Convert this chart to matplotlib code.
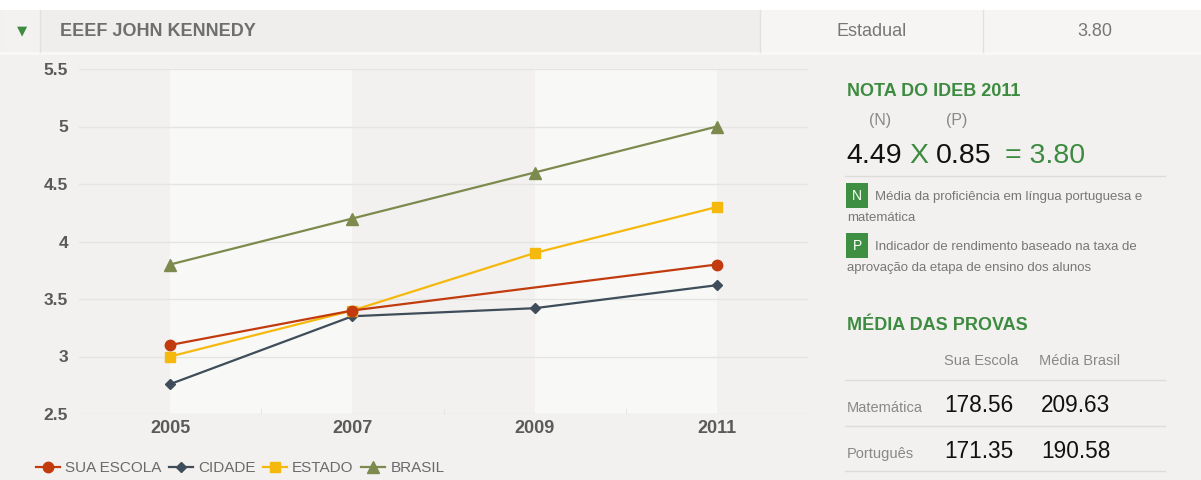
import matplotlib
matplotlib.use("Agg")
import matplotlib.pyplot as plt
from matplotlib.patches import Rectangle
from matplotlib.lines import Line2D
import numpy as np

plt.rcParams['font.family'] = ['Liberation Sans', 'DejaVu Sans']

# ---------------- data ----------------
years = [2005, 2007, 2009, 2011]
escola_years = [2005, 2007, 2011]
escola = [3.1, 3.4, 3.8]
cidade = [2.76, 3.35, 3.42, 3.62]
estado = [3.0, 3.4, 3.9, 4.3]
brasil = [3.8, 4.2, 4.6, 5.0]
series_names = ["SUA ESCOLA", "CIDADE", "ESTADO", "BRASIL"]
yticks = [2.5, 3, 3.5, 4, 4.5, 5, 5.5]
ytick_labels = ["2.5", "3", "3.5", "4", "4.5", "5", "5.5"]

school_name = "EEEF JOHN KENNEDY"
rede = "Estadual"
ideb = "3.80"
nota_n = "4.49"
nota_p = "0.85"
provas_cols = ["Sua Escola", "Média Brasil"]
provas_rows = ["Matemática", "Português"]
provas_escola = ["178.56", "171.35"]
provas_brasil = ["209.63", "190.58"]

# ---------------- figure ----------------
W, H = 1201, 480
fig = plt.figure(figsize=(W / 100, H / 100), dpi=100)
fig.patch.set_facecolor("#f2f1ef")

def fx(x):
    return x / W

def fy(y):
    return 1 - y / H

GREEN = "#3d8b40"

# top white strip and header
fig.patches.append(Rectangle((0, fy(10)), 1, 10 / H, transform=fig.transFigure,
                             facecolor="white", edgecolor="none", zorder=0))
fig.patches.append(Rectangle((fx(5), fy(52)), fx(1196), 42 / H, transform=fig.transFigure,
                             facecolor="#efeeec", edgecolor="none", zorder=0))
fig.patches.append(Rectangle((fx(5), fy(52)), fx(35), 42 / H, transform=fig.transFigure,
                             facecolor="#f3f2f1", edgecolor="none", zorder=0))
fig.patches.append(Rectangle((fx(761), fy(52)), fx(440), 42 / H, transform=fig.transFigure,
                             facecolor="#f6f5f4", edgecolor="none", zorder=0))
fig.patches.append(Rectangle((0, fy(55)), 1, 3 / H, transform=fig.transFigure,
                             facecolor="#f9f8f7", edgecolor="none", zorder=0))
for xd in [40, 760, 983]:
    fig.add_artist(Line2D([fx(xd), fx(xd)], [fy(10), fy(52)], transform=fig.transFigure,
                          color="#e2e1df", lw=1))
fig.text(fx(22), fy(31), "▼", color=GREEN, fontsize=9.5, ha="center", va="center",
         family=["DejaVu Sans"])
fig.text(fx(60), fy(31), school_name, color="#6e6e6e", fontsize=13, fontweight="bold",
         ha="left", va="center")
fig.text(fx(872), fy(31), rede, color="#777777", fontsize=13, ha="center", va="center")
fig.text(fx(1095), fy(31), ideb, color="#777777", fontsize=13, ha="center", va="center")

# ---------------- chart ----------------
ax = fig.add_axes([fx(79), fy(414), fx(729), (414 - 69) / H])
ax.set_facecolor("none")
ax.set_xlim(2004, 2012)
ax.set_ylim(2.5, 5.5)
for a, b in [(years[0], years[1]), (years[2], years[3])]:
    ax.axvspan(a, b, color="#f8f8f7", zorder=0, lw=0)
for s in ax.spines.values():
    s.set_visible(False)
ax.set_yticks(yticks)
ax.set_yticklabels(ytick_labels)
ax.set_xticks(years)
ax.set_xticklabels([str(y) for y in years])
ax.set_xticks([2006, 2008, 2010], minor=True)
ax.grid(axis="y", color="#e4e4e2", lw=1, zorder=1)
ax.tick_params(axis="y", length=0, pad=8, labelsize=12.5, labelcolor="#5a5a5a")
ax.tick_params(axis="x", which="major", length=0, pad=4, labelsize=13, labelcolor="#5a5a5a")
ax.tick_params(axis="x", which="minor", length=4, color="#e4e4e2", direction="in")
for lab in ax.get_xticklabels() + ax.get_yticklabels():
    lab.set_fontweight("bold")

lw = 1.6
l1, = ax.plot(escola_years, escola, color="#c23b0e", lw=lw, marker="o", ms=7.5, zorder=4)
l2, = ax.plot(years, cidade, color="#3e4d59", lw=lw, marker="D", ms=5.5, zorder=3)
l3, = ax.plot(years, estado, color="#f5b80c", lw=lw, marker="s", ms=7.5, zorder=3)
l4, = ax.plot(years, brasil, color="#7c8a4d", lw=lw, marker="^", ms=8, zorder=3)

leg = fig.legend([l1, l2, l3, l4], series_names, loc="center left",
                 bbox_to_anchor=(fx(36), fy(468)), ncol=4, frameon=False,
                 handlelength=1.55, handletextpad=0.35, columnspacing=0.5,
                 fontsize=11, borderaxespad=0, borderpad=0)
for t in leg.get_texts():
    t.set_color("#6a6a6a")

# ---------------- right panel ----------------
fig.text(fx(847), fy(92), "NOTA DO IDEB 2011", color=GREEN, fontsize=13, fontweight="bold",
         ha="left", va="center")
fig.text(fx(880), fy(121), "(N)", color="#888888", fontsize=11.5, ha="center", va="center")
fig.text(fx(957), fy(121), "(P)", color="#888888", fontsize=11.5, ha="center", va="center")
fy_eq = fy(156)
fig.text(fx(846), fy_eq, nota_n, color="#111111", fontsize=20.5, ha="left", va="center")
fig.text(fx(909), fy_eq, "X", color=GREEN, fontsize=20.5, ha="left", va="center")
fig.text(fx(936), fy_eq, nota_p, color="#111111", fontsize=20.5, ha="left", va="center")
fig.text(fx(1005), fy_eq, "= " + ideb, color=GREEN, fontsize=20.5, ha="left", va="center")
fig.add_artist(Line2D([fx(845), fx(1165)], [fy(176), fy(176)], transform=fig.transFigure,
                      color="#dcdcda", lw=1))

for (ytop, letter, l1t, l2t) in [(183, "N", "Média da proficiência em língua portuguesa e", "matemática"),
                                 (233, "P", "Indicador de rendimento baseado na taxa de",
                                  "aprovação da etapa de ensino dos alunos")]:
    fig.patches.append(Rectangle((fx(846), fy(ytop + 25)), 22 / W, 25 / H,
                                 transform=fig.transFigure, facecolor="#3f8f42",
                                 edgecolor="none"))
    fig.text(fx(857), fy(ytop + 13), letter, color="white", fontsize=10, ha="center", va="center")
    fig.text(fx(875), fy(ytop + 14), l1t, color="#777777", fontsize=9.5, ha="left", va="center")
    fig.text(fx(847), fy(ytop + 35), l2t, color="#777777", fontsize=9.5, ha="left", va="center")

fig.text(fx(847), fy(325), "MÉDIA DAS PROVAS", color=GREEN, fontsize=13, fontweight="bold",
         ha="left", va="center")
fig.text(fx(981), fy(361), provas_cols[0], color="#888888", fontsize=10.5, ha="center", va="center")
fig.text(fx(1080), fy(361), provas_cols[1], color="#888888", fontsize=10.5, ha="center", va="center")
for yl in [380, 426, 471]:
    fig.add_artist(Line2D([fx(845), fx(1165)], [fy(yl), fy(yl)], transform=fig.transFigure,
                          color="#dcdcda", lw=1))
for i, yr in enumerate([406, 452]):
    fig.text(fx(847), fy(yr + 2), provas_rows[i], color="#888888", fontsize=10.5,
             ha="left", va="center")
    fig.text(fx(944), fy(yr), provas_escola[i], color="#111111", fontsize=16.3,
             ha="left", va="center")
    fig.text(fx(1041), fy(yr), provas_brasil[i], color="#111111", fontsize=16.3,
             ha="left", va="center")

fig.savefig("out.png", dpi=100, facecolor=fig.get_facecolor())
